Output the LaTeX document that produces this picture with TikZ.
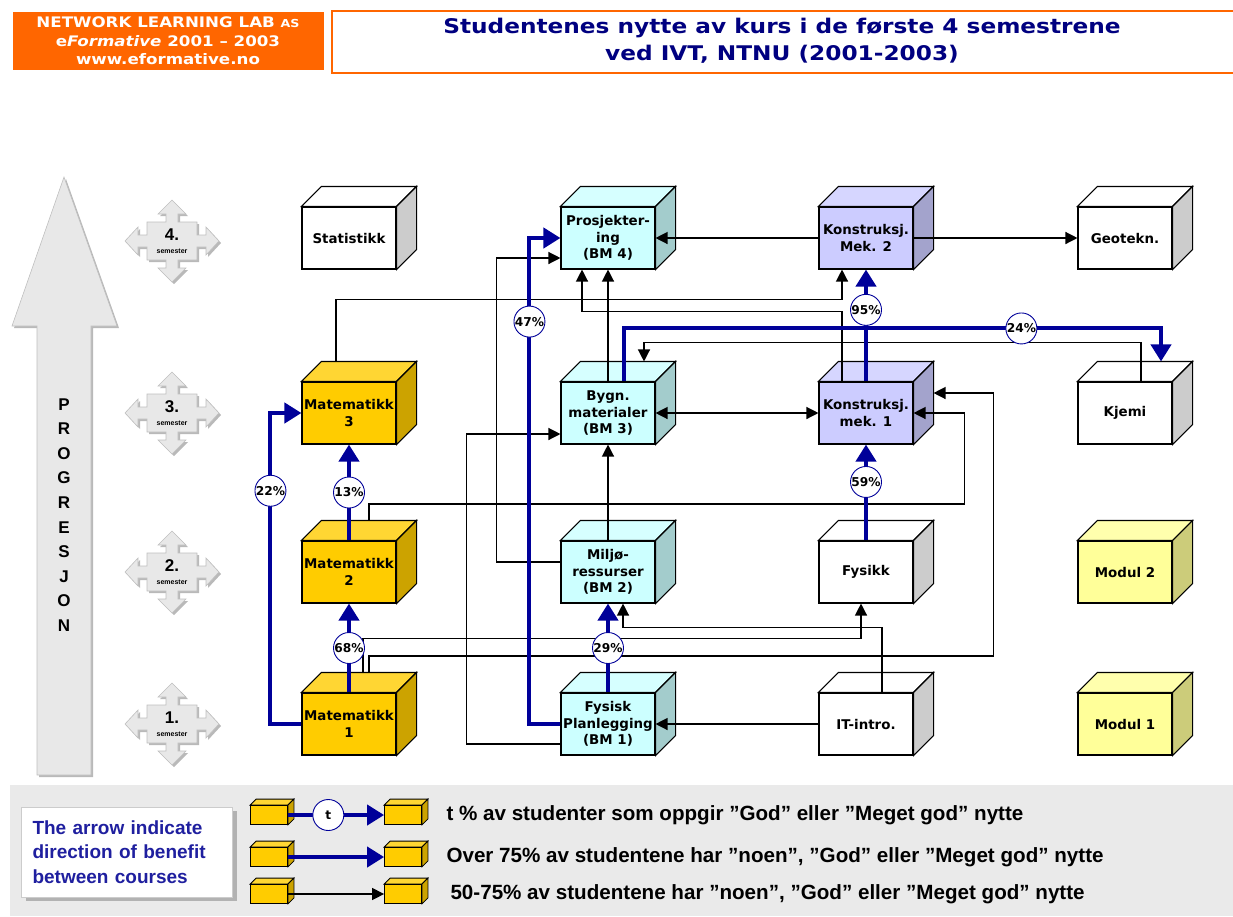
\documentclass[tikz,border=0pt]{standalone}
\usepackage{fontspec}
\setmainfont{Liberation Sans}
\newfontfamily\verdana{DejaVu Sans}
\newfontfamily\wideverdana{DejaVu Sans}[FakeStretch=1.15]
\usetikzlibrary{positioning, arrows.meta, calc, backgrounds, shadows}

\definecolor{nllorange}{HTML}{FF6600}
\definecolor{titleblue}{HTML}{000080}
\definecolor{navyblue}{HTML}{000099}
\definecolor{noteblue}{HTML}{1F1F9F}
\definecolor{mathfront}{HTML}{FFCC00}
\definecolor{mathtop}{HTML}{FFD633}
\definecolor{mathside}{HTML}{CCA300}
\definecolor{bmfront}{HTML}{CCFFFF}
\definecolor{bmtop}{HTML}{D6FFFF}
\definecolor{bmside}{HTML}{A3CCCC}
\definecolor{kmfront}{HTML}{CCCCFF}
\definecolor{kmtop}{HTML}{D6D6FF}
\definecolor{kmside}{HTML}{A3A3CC}
\definecolor{plainside}{HTML}{CCCCCC}
\definecolor{modfront}{HTML}{FFFF99}
\definecolor{modtop}{HTML}{FFFFAD}
\definecolor{modside}{HTML}{CCCC7A}
\definecolor{legendgray}{HTML}{EAEAEA}
\definecolor{signgray}{HTML}{E8E8E8}

\begin{document}
\begin{tikzpicture}[x=1pt, y=-1pt, on grid,
    course/.style={draw, line width=1.1pt, minimum width=94pt, minimum height=62pt, inner sep=0pt, align=center, font=\verdana\bfseries\fontsize{13.4}{16.5}\selectfont},
    plain/.style={course, fill=white},
    math/.style={course, fill=mathfront},
    bm/.style={course, fill=bmfront},
    km/.style={course, fill=kmfront},
    modul/.style={course, fill=modfront},
    minicube/.style={draw, line width=0.8pt, fill=mathfront, minimum width=37pt, minimum height=19pt, inner sep=0pt},
    benefit/.style={draw=navyblue, line width=4pt, -{Triangle[width=20pt,length=17pt]}},
    support/.style={draw=black, line width=1.3pt, -{Triangle[width=12pt,length=12pt]}},
    supportboth/.style={draw=black, line width=1.3pt, {Triangle[width=12pt,length=12pt]}-{Triangle[width=12pt,length=12pt]}},
    pct/.style={circle, draw=navyblue, line width=0.9pt, fill=white, text=black, inner sep=0pt, minimum size=31pt, font=\verdana\bfseries\fontsize{12.2}{12}\selectfont},
    sign/.style={fill=signgray, draw=gray!50, line width=0.6pt, drop shadow={shadow xshift=2pt, shadow yshift=-2pt, fill=gray!55, opacity=1}},
    legendtext/.style={anchor=west, font=\bfseries\fontsize{20.6}{20}\selectfont}]
\useasboundingbox (0,0) rectangle (1233,916);

% header
\node[fill=nllorange, minimum width=311pt, minimum height=58pt, inner sep=0pt, text=white, align=center,
  font=\wideverdana\bfseries\fontsize{14.5}{18.5}\selectfont] (lab) at (168,41)
  {NETWORK LEARNING LAB {\fontsize{11}{11}\selectfont AS}\\e{\itshape Formative} 2001 – 2003\\www.eformative.no};
\node[draw=nllorange, line width=1.6pt, anchor=north west, minimum width=906pt, minimum height=62pt, inner sep=0pt] (titlebox) at (331,10) {};
\node[text=titleblue, align=center, font=\wideverdana\bfseries\fontsize{20.2}{27}\selectfont] (title) at (782,41)
  {Studentenes nytte av kurs i de første 4 semestrene\\ved IVT, NTNU (2001-2003)};

% progression arrow
\draw[sign] (37,775) -- (37,326) -- (12,326) -- (64,177) -- (117,326) -- (91,326) -- (91,775) -- cycle;
\node[align=center, font=\bfseries\fontsize{17}{24.6}\selectfont] (progtext) at (64,515) {P\\R\\O\\G\\R\\E\\S\\J\\O\\N};

% semester signs
\foreach \s/\y in {1/724, 2/572, 3/413, 4/241}{
  \begin{scope}[shift={(172,\y)}]
    \draw[sign] (0,-41) -- (14,-27) -- (6,-27) -- (6,-19) -- (25,-19) -- (25,-6) -- (34,-6) -- (34,-14) -- (47,0)
      -- (34,14) -- (34,6) -- (25,6) -- (25,19) -- (6,19) -- (6,27) -- (14,27) -- (0,41) -- (-14,27) -- (-6,27)
      -- (-6,19) -- (-25,19) -- (-25,6) -- (-34,6) -- (-34,14) -- (-47,0) -- (-34,-14) -- (-34,-6) -- (-25,-6)
      -- (-25,-19) -- (-6,-19) -- (-6,-27) -- (-14,-27) -- cycle;
    \node[font=\bfseries\fontsize{17}{17}\selectfont] (sem\s) at (0,-6) {\s.};
    \node[font=\bfseries\fontsize{7}{7}\selectfont] (semtxt\s) at (0,10) {semester};
  \end{scope}
}

% courses
\node[math] (mat1) at (349,724) {Matematikk\\1};
\node[bm] (fysp) [right=259pt of mat1] {Fysisk\\Planlegging\\(BM 1)};
\node[plain] (itin) [right=258pt of fysp] {IT-intro.};
\node[modul] (mod1) [right=259pt of itin] {Modul 1};
\node[math] (mat2) [above=152pt of mat1] {Matematikk\\2};
\node[bm] (milj) [right=259pt of mat2] {Miljø-\\ressurser\\(BM 2)};
\node[plain] (fys) [right=258pt of milj] {Fysikk};
\node[modul] (mod2) [right=259pt of fys] {Modul 2};
\node[math] (mat3) [above=159pt of mat2] {Matematikk\\3};
\node[bm] (bygn) [right=259pt of mat3] {Bygn.\\materialer\\(BM 3)};
\node[km] (km1) [right=258pt of bygn] {Konstruksj.\\mek. 1};
\node[plain] (kjemi) [right=259pt of km1] {Kjemi};
\node[plain] (stat) [above=175pt of mat3] {Statistikk};
\node[bm] (pros) [right=259pt of stat] {Prosjekter-\\ing\\(BM 4)};
\node[km] (km2) [right=258pt of pros] {Konstruksj.\\Mek. 2};
\node[plain] (geo) [right=259pt of km2] {Geotekn.};

% legend
\node[minicube] (lc1a) at (269,815) {};
\node[minicube] (lc1b) [right=134pt of lc1a] {};
\node[minicube] (lc2a) [below=42pt of lc1a] {};
\node[minicube] (lc2b) [right=134pt of lc2a] {};
\node[minicube] (lc3a) [below=37pt of lc2a] {};
\node[minicube] (lc3b) [right=134pt of lc3a] {};

\begin{scope}[on background layer]
  \fill[legendgray] (10,785) rectangle (1233,916);
  \foreach \nm/\tp/\sd in {stat/white/plainside, geo/white/plainside, kjemi/white/plainside, fys/white/plainside,
      itin/white/plainside, mat1/mathtop/mathside, mat2/mathtop/mathside, mat3/mathtop/mathside,
      fysp/bmtop/bmside, milj/bmtop/bmside, bygn/bmtop/bmside, pros/bmtop/bmside,
      km1/kmtop/kmside, km2/kmtop/kmside, mod1/modtop/modside, mod2/modtop/modside}{
    \draw[line width=1.1pt, fill=\tp] (\nm.north west) -- ++(20,-20) -- ($(\nm.north east)+(20,-20)$) -- (\nm.north east) -- cycle;
    \draw[line width=1.1pt, fill=\sd] (\nm.north east) -- ++(20,-20) -- ($(\nm.south east)+(20,-20)$) -- (\nm.south east) -- cycle;
  }
  \foreach \nm in {lc1a, lc1b, lc2a, lc2b, lc3a, lc3b}{
    \draw[line width=0.8pt, fill=mathtop] (\nm.north west) -- ++(6,-6) -- ($(\nm.north east)+(6,-6)$) -- (\nm.north east) -- cycle;
    \draw[line width=0.8pt, fill=mathside] (\nm.north east) -- ++(6,-6) -- ($(\nm.south east)+(6,-6)$) -- (\nm.south east) -- cycle;
  }
\end{scope}

% thin arrows
\draw[support] (km2) -- (pros);
\draw[support] (km2) -- (geo);
\draw[support] ($(mat3.north)+(-13,-20)$) |- ($(km2.south)+(-24,30)$) -- ($(km2.south)+(-24,0)$);
\draw[support] ($(km1.north)+(-24,0)$) |- ($(pros.south)+(-26,42)$) -- ($(pros.south)+(-26,0)$);
\draw[support] (bygn) -- (pros);
\draw[support] ($(kjemi.north)+(16,0)$) |- ($(bygn.north)+(36,-39)$) -- ($(bygn.north)+(36,-20)$);
\draw[supportboth] (bygn) -- (km1);
\draw[support] (milj) -- (bygn);
\draw[support] ($(milj.west)+(0,-10)$) -- ++(-64,0) |- ($(pros.west)+(0,20)$);
\draw[support] ($(fysp.west)+(0,20)$) -- ++(-94,0) |- ($(bygn.west)+(0,21)$);
\draw[support] ($(mat2.north)+(20,-20)$) |- ($(km1.east)+(51,91)$) |- (km1.east);
\draw[support] ($(mat1.north)+(14,-20)$) |- ($(fys.south)+(-5,35)$) -- ($(fys.south)+(-5,0)$);
\draw[support] ($(mat1.north)+(20,-20)$) |- ($(km1.east)+(80,243)$) |- ($(km1.east)+(20,-20)$);
\draw[support] ($(itin.north)+(16,0)$) |- ($(milj.south)+(15,24)$) -- ($(milj.south)+(15,0)$);
\draw[support] (itin) -- (fysp);

% thick arrows
\draw[benefit] (mat1) -- node[pct] (p68) {68\%} (mat2);
\draw[benefit] (mat2) -- node[pct] (p13) {13\%} (mat3);
\draw[benefit] (mat1.west) -- ++(-31,0) |- node[pct, pos=0.375] (p22) {22\%} (mat3.west);
\draw[benefit] (fysp.west) -- ++(-31,0) |- node[pct, pos=0.414] (p47) {47\%} (pros.west);
\draw[benefit] (fysp) -- node[pct] (p29) {29\%} (milj);
\draw[benefit] (fys) -- node[pct, pos=0.61] (p59) {59\%} (km1);
\draw[benefit] (km1) -- node[pct, pos=0.64] (p95) {95\%} (km2);
\draw[benefit] ($(bygn.north)+(16,0)$) |- node[pct, pos=0.87] (p24) {24\%} ($(kjemi.north)+(36,-53)$) -- ($(kjemi.north)+(36,-20)$);

% legend arrows and texts
\draw[benefit] (lc1a) -- node[pct, pos=0.42] (tpct) {t} (lc1b);
\draw[benefit] (lc2a) -- (lc2b);
\draw[support] (lc3a) -- (lc3b);
\node[legendtext] (lt1) at (443,815) {t \% av studenter som oppgir ”God” eller ”Meget god” nytte};
\node[legendtext] (lt2) at (443,857) {Over 75\% av studentene har ”noen”, ”God” eller ”Meget god” nytte};
\node[legendtext] (lt3) at (447,894) {50-75\% av studentene har ”noen”, ”God” eller ”Meget god” nytte};
\node[draw=gray!40, fill=white, text=noteblue, align=left, text width=189pt, inner xsep=11pt, minimum height=90pt,
  font=\bfseries\fontsize{19}{24.5}\selectfont,
  drop shadow={shadow xshift=4pt, shadow yshift=-4pt, fill=gray!60, opacity=1}] (note) at (127,852)
  {The arrow indicate\\direction of benefit\\between courses};

\end{tikzpicture}
\end{document}
